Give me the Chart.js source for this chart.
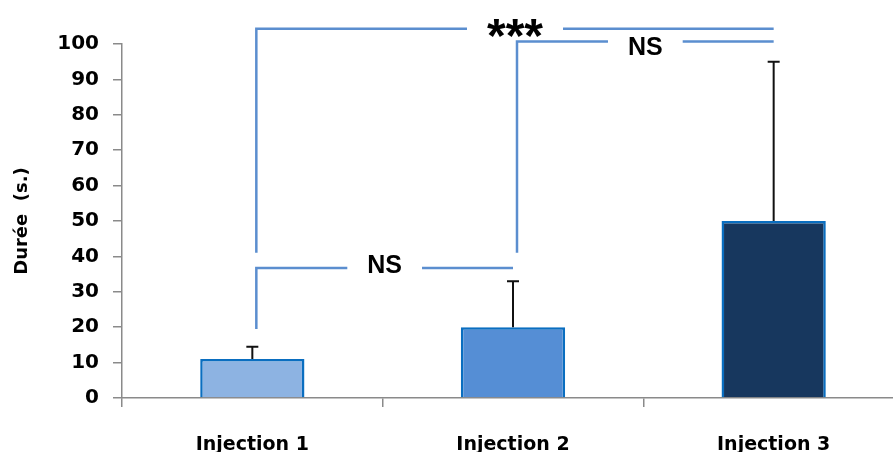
<!DOCTYPE html>
<html>
<head>
<meta charset="utf-8">
<script src="https://cdn.jsdelivr.net/npm/chart.js@4"></script>
<style>
  html, body { margin: 0; padding: 0; background: #fff; overflow: hidden; }
</style>
</head>
<body>
<canvas id="myChart" width="910" height="452"></canvas>
<script>
const categories = ["Injection 1", "Injection 2", "Injection 3"];
const durations = [11, 20, 50];
const errorTops = [14.5, 33, 95];
const barColors = ["#8DB3E2", "#558ED5", "#17375E"];

// significance brackets
const bracketFrom = [0, 1, 0];
const bracketTo = [1, 2, 2];
const bracketLevel = [36.7, 100.7, 104.3];
const bracketLegEnd = [19.5, 41, 41];
const bracketLabels = ["NS", "NS", "***"];

const annotations = {
  id: "annotations",
  afterDatasetsDraw(chart) {
    const ctx = chart.ctx;
    const x = chart.scales.x, y = chart.scales.y;
    ctx.save();
    // error bars
    ctx.strokeStyle = "#111";
    ctx.lineWidth = 2;
    durations.forEach((v, i) => {
      const px = x.getPixelForValue(i);
      const top = y.getPixelForValue(errorTops[i]);
      ctx.beginPath();
      ctx.moveTo(px, y.getPixelForValue(v));
      ctx.lineTo(px, top);
      ctx.moveTo(px - 6, top);
      ctx.lineTo(px + 6, top);
      ctx.stroke();
    });
    // brackets
    ctx.strokeStyle = "#5B8ECF";
    ctx.lineWidth = 2.5;
    ctx.fillStyle = "#000";
    ctx.textAlign = "center";
    bracketLabels.forEach((lab, i) => {
      const x1 = x.getPixelForValue(bracketFrom[i]) + 4;
      const x2 = x.getPixelForValue(bracketTo[i]);
      const py = y.getPixelForValue(bracketLevel[i]);
      const big = lab === "***";
      ctx.font = big ? "bold 48px 'Liberation Sans'" : "bold 25px 'Liberation Sans'";
      const mid = (x1 + x2) / 2;
      const half = ctx.measureText(lab).width / 2 + (big ? 20 : 20);
      ctx.beginPath();
      ctx.moveTo(x1, y.getPixelForValue(bracketLegEnd[i]));
      ctx.lineTo(x1, py);
      ctx.lineTo(mid - half, py);
      ctx.moveTo(mid + half, py);
      ctx.lineTo(x2, py);
      ctx.stroke();
      if (big) {
        ctx.textBaseline = "alphabetic";
        ctx.fillText(lab, mid, py + 23);
      } else {
        ctx.textBaseline = "middle";
        ctx.fillText(lab, mid, py + (i === 1 ? 7 : -2));
      }
    });
    ctx.restore();
  }
};

new Chart(document.getElementById("myChart"), {
  type: "bar",
  data: {
    labels: categories,
    datasets: [{
      data: durations,
      backgroundColor: barColors,
      borderColor: "#0A6EC0",
      borderWidth: 2.5,
      borderSkipped: "bottom",
      categoryPercentage: 1,
      barPercentage: 0.4
    }]
  },
  options: {
    responsive: false,
    animation: false,
    layout: { padding: { top: 44, right: 6, left: 0, bottom: 0 } },
    plugins: { legend: { display: false }, tooltip: { enabled: false } },
    scales: {
      x: {
        afterFit(scale) { scale.height = 54; },
        grid: { display: true, drawOnChartArea: false, offset: true, tickLength: 9, color: "#8a8a8a", lineWidth: 1.5 },
        border: { color: "#8a8a8a", width: 1.5 },
        ticks: { color: "#000", padding: 27, maxRotation: 0, font: { family: "DejaVu Sans", weight: "bold", size: 19 } }
      },
      y: {
        min: 0,
        max: 100,
        afterFit(scale) { scale.width = 122; },
        grid: { drawOnChartArea: false, tickLength: 9, color: "#8a8a8a", lineWidth: 1.5 },
        border: { color: "#8a8a8a", width: 1.5 },
        ticks: { stepSize: 10, color: "#000", padding: 14, font: { family: "DejaVu Sans", weight: "bold", size: 20 } },
        title: {
          display: true,
          text: "Durée  (s.)",
          color: "#000",
          padding: { top: 12, bottom: 0 },
          font: { family: "DejaVu Sans", weight: "bold", size: 18 }
        }
      }
    }
  },
  plugins: [annotations]
});
</script>
</body>
</html>
